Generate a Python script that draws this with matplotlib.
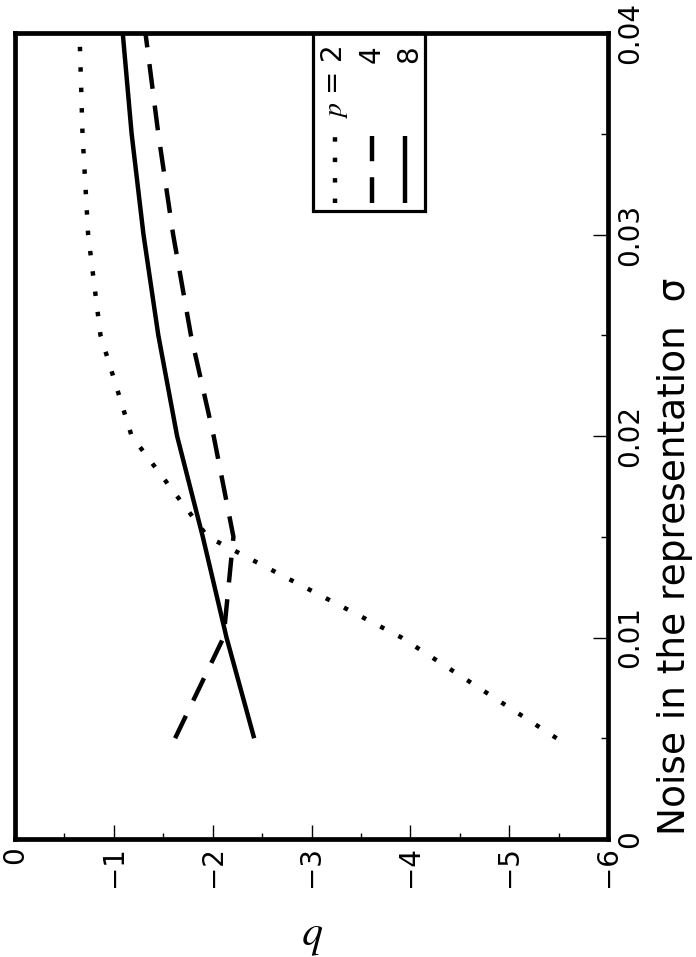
import matplotlib
matplotlib.use("Agg")
import matplotlib.pyplot as plt
from matplotlib.patches import Rectangle

# ---------------- data ----------------
sigma = [0.005, 0.01, 0.015, 0.02, 0.025, 0.03, 0.035, 0.04]
b_p2 = [-5.48, -3.91, -1.95, -1.18, -0.865, -0.74, -0.683, -0.653]
b_p4 = [-1.62, -2.11, -2.21, -2.01, -1.78, -1.60, -1.45, -1.32]
b_p8 = [-2.42, -2.14, -1.90, -1.64, -1.45, -1.30, -1.18, -1.09]

b_ticks = [0, -1, -2, -3, -4, -5, -6]
b_minor = [-0.5, -1.5, -2.5, -3.5, -4.5, -5.5]
sigma_ticks = [0, 0.01, 0.02, 0.03, 0.04]
sigma_ticklabels = ["0", "0.01", "0.02", "0.03", "0.04"]
sigma_minor = [0.005, 0.015, 0.025, 0.035]
legend_labels = ["$p$ = 2", "4", "8"]

xlabel_text = "Noise in the representation  σ"
ylabel_text = "$b$"

plt.rcParams["mathtext.fontset"] = "stix"
plt.rcParams["font.family"] = ["DejaVu Sans"]

fig = plt.figure(figsize=(6.96, 9.57), dpi=100)
ax = fig.add_axes([15 / 696, 1 - 839 / 957, 593 / 696, 806 / 957])

lw = 3.2
ax.plot(b_p2, sigma, color="black", lw=lw, linestyle=(0, (1, 3.6)),
        dash_capstyle="butt", solid_capstyle="butt")
ax.plot(b_p4, sigma, color="black", lw=lw, linestyle=(0, (5.6, 3.8)),
        dash_capstyle="butt", solid_capstyle="butt")
ax.plot(b_p8, sigma, color="black", lw=lw, linestyle="-",
        solid_capstyle="butt", solid_joinstyle="round")

ax.set_xlim(0, -6)
ax.set_ylim(0, 0.04)

for s in ax.spines.values():
    s.set_linewidth(3.4)

ax.set_xticks(b_ticks)
ax.set_xticks(b_minor, minor=True)
ax.set_yticks(sigma_ticks)
ax.set_yticklabels(sigma_ticklabels)
ax.set_yticks(sigma_minor, minor=True)

ax.yaxis.tick_right()
ax.tick_params(axis="x", which="both", direction="in", bottom=True, top=False,
               labelrotation=90, labelsize=20, pad=5, width=1.0)
ax.tick_params(axis="x", which="major", length=10)
ax.tick_params(axis="x", which="minor", length=4.5)
ax.tick_params(axis="y", which="both", direction="in", right=True, left=False,
               labelright=True, labelleft=False,
               labelrotation=90, labelsize=20, pad=6, width=1.0)
ax.tick_params(axis="y", which="major", length=10.5)
ax.tick_params(axis="y", which="minor", length=5)
for lbl in ax.get_yticklabels():
    lbl.set_va("center")

# axis labels (figure is displayed rotated)
ax.yaxis.set_label_position("right")
ax.set_ylabel(xlabel_text, fontsize=27)
ax.yaxis.label.set_ha("left")
ax.yaxis.set_label_coords((657 - 15) / 593, (839 - 835) / 806)

ax.set_xlabel(ylabel_text, fontsize=30, rotation=180)
ax.xaxis.set_label_coords((313 - 15) / 593, (839 - 915) / 806)

# legend drawn rotated
leg_left, leg_right = (313 - 15) / 593, (425 - 15) / 593
leg_bottom, leg_top = (839 - 211) / 806, 1.0
ax.add_patch(Rectangle((leg_left, leg_bottom), leg_right - leg_left,
                       leg_top - leg_bottom, transform=ax.transAxes,
                       fill=False, lw=2.3, edgecolor="black", zorder=5,
                       clip_on=False))
key_x = [(335 - 15) / 593, (372 - 15) / 593, (404.5 - 15) / 593]
key_y0, key_y1 = (839 - 203) / 806, (839 - 136) / 806
styles = [(0, (1, 3.6)), (0, (5.8, 3.6)), "-"]
for kx, st in zip(key_x, styles):
    ax.plot([kx, kx], [key_y0, key_y1], transform=ax.transAxes, color="black",
            lw=lw, linestyle=st, dash_capstyle="butt", solid_capstyle="butt",
            zorder=6)
lab_x = [(342 - 15) / 593, (380 - 15) / 593, (417 - 15) / 593]
for lx, lab in zip(lab_x, legend_labels):
    ax.text(lx, (839 - 45) / 806, lab, transform=ax.transAxes, rotation=90,
            rotation_mode="anchor", ha="right", va="baseline", fontsize=20,
            zorder=6)

fig.savefig("out.png", dpi=100)
